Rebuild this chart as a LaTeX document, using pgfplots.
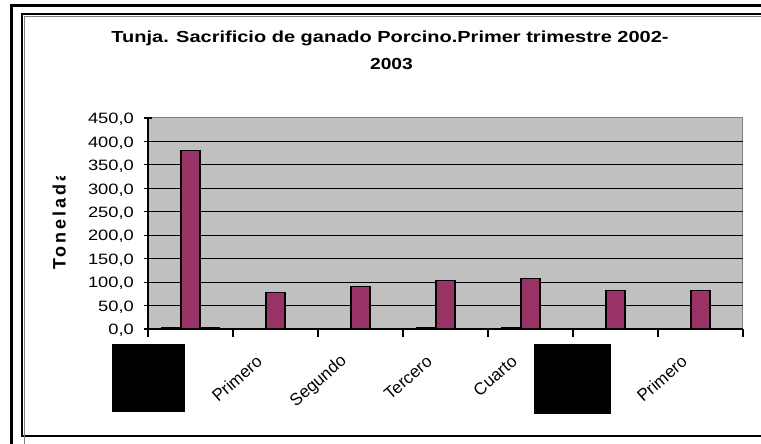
\documentclass[border=0pt]{standalone}
\usepackage{graphicx}
\usepackage{pgfplots}
\pgfplotsset{compat=1.18}
\usepackage{fontspec}
\setmainfont{Liberation Sans}
\definecolor{barc}{HTML}{993366}
\definecolor{plotbg}{HTML}{C0C0C0}
\definecolor{ser1}{HTML}{9999FF}
\definecolor{ser3}{HTML}{FFFFCC}
\newcommand\tickfont{\fontsize{15}{18}\selectfont}
\newcommand\xlabfont{\fontsize{17}{20}\selectfont}
\newcommand\wide[1]{\scalebox{1.22}[1]{#1}}
\begin{document}
\begin{tikzpicture}[x=1pt,y=1pt]
\path[use as bounding box] (0,0) rectangle (761,444);
% chart frames
\draw[line width=3pt] (11.5,-20) -- (11.5,438.5) -- (800,438.5);
\draw[line width=2pt] (800,8) -- (22,8) -- (22,430) -- (800,430);
\draw[gray, line width=1pt] (24.5,-20) -- (24.5,427.5) -- (800,427.5);
% title
\node[anchor=base, inner sep=0pt] at (390,401) {\scalebox{1.25}[1]{\fontsize{16}{19}\selectfont\bfseries Tunja. Sacrificio de ganado Porcino.Primer trimestre 2002-}};
\node[anchor=base, inner sep=0pt] at (391.5,374) {\scalebox{1.2}[1]{\fontsize{16}{19}\selectfont\bfseries 2003}};
% y label (clipped as in the original)
\begin{scope}
\clip (30,150) rectangle (90,267);
\node[rotate=90, anchor=base west, inner sep=0pt] at (65.5,174) {\fontsize{18}{20}\selectfont\bfseries\addfontfeature{LetterSpace=16}Toneladas};
\end{scope}
\begin{axis}[
  at={(148pt,115pt)}, anchor=south west,
  scale only axis, width=595pt, height=211pt,
  xmin=-0.5, xmax=6.5, ymin=0, ymax=450,
  axis background/.style={fill=plotbg, draw=gray, line width=1pt},
  axis x line*=bottom, axis y line*=left,
  axis line style={black, line width=1.3pt},
  xtick={-0.5,0.5,1.5,2.5,3.5,4.5,5.5,6.5},
  x tick label as interval,
  xticklabels={,Primero,Segundo,Tercero,Cuarto,,Primero},
  ytick={0,50,...,450},
  yticklabel={\wide{\pgfmathprintnumber{\tick}}},
  extra y ticks={50,100,...,400},
  extra y tick labels={},
  extra y tick style={grid=major, tick style={draw=none}},
  major grid style={black, line width=1.2pt},
  major tick length=8pt,
  x tick style={black, line width=1.2pt},
  xtick align=outside,
  y tick style={black, line width=1.2pt},
  ytick align=center,
  y tick label style={font=\tickfont},
  x tick label style={font=\xlabfont},
  /pgf/number format/assume math mode=true,
  y tick label style={/pgf/number format/fixed, /pgf/number format/fixed zerofill, /pgf/number format/precision=1, /pgf/number format/use comma, inner sep=0pt, anchor=east, xshift=-10pt, yshift=-1.5pt},
  xticklabel style={inner sep=0pt, xshift=-16pt, yshift=-22pt, rotate=41, anchor=east},
  ybar, bar width=19pt,
]
\addplot[ybar, bar shift=-19pt, fill=ser1, draw=black, line width=1.2pt] coordinates {(0,2) (3,2) (4,2)};
\addplot[ybar, bar shift=0pt, fill=barc, draw=black, line width=1.2pt] coordinates {(0,380) (1,78.3) (2,91.1) (3,103) (4,107.3) (5,81.7) (6,81.7)};
\addplot[ybar, bar shift=19pt, fill=ser3, draw=black, line width=1.2pt] coordinates {(0,2)};
\end{axis}
% redaction boxes in the original picture
\fill[black] (112,32) rectangle (185,100);
\fill[black] (534,30) rectangle (611,100);
\end{tikzpicture}
\end{document}
